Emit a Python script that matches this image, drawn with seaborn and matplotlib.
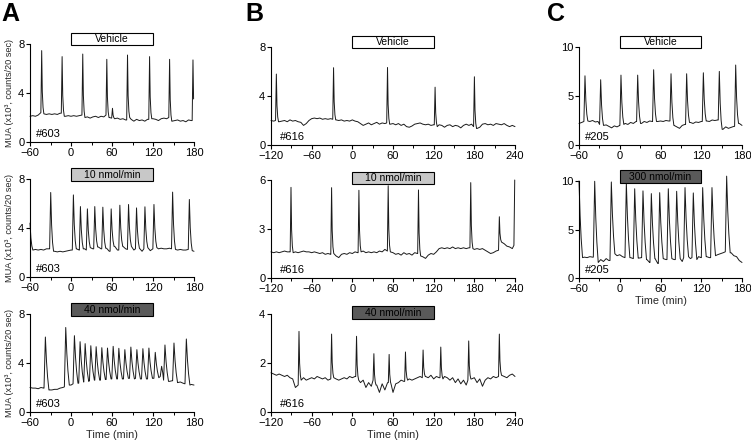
import numpy as np
import pandas as pd
import matplotlib
matplotlib.use("Agg")
import matplotlib.pyplot as plt
import matplotlib.transforms as mtransforms
from matplotlib.patches import Rectangle
import seaborn as sns

sns.set_theme(style="ticks")
plt.rcParams['font.family'] = ['Liberation Sans', 'DejaVu Sans']

# ---------------- data (MUA, x10^3 counts / 20 sec) ----------------
STEP = 4.0  # minutes between baseline samples

# Panel A  (#603), time -60..180
A_VEH_BASE = [2.10, 2.15, 2.10, 2.20, 2.40, 2.30, 2.25, 2.30, 2.25, 2.30,
              2.25, 2.35, 2.10, 2.10, 2.15, 2.10, 2.15, 2.10, 2.15, 2.20,
              2.00, 2.05, 1.95, 2.05, 2.10, 2.00, 2.10, 2.05, 2.20, 2.00,
              1.95, 1.90, 1.95, 1.85, 1.90, 1.80, 2.00, 1.85, 1.70, 1.85,
              1.75, 1.80, 1.70, 1.85, 2.00, 1.90, 1.85, 1.75, 1.90, 1.95,
              1.90, 2.00, 1.70, 1.75, 1.80, 1.70, 1.75, 1.65, 1.80, 1.75,
              1.80]
A_VEH_PK_T = [-42.9, -13.0, 17.2, 52.4, 60.7, 82.7, 115.0, 144.3, 178.5]
A_VEH_PK_V = [7.46, 6.97, 7.18, 6.75, 2.75, 7.10, 6.97, 6.75, 6.70]

A_10_BASE = [2.30, 2.20, 2.25, 2.20, 2.25, 2.20, 2.30, 2.30, 2.15, 2.10,
             2.05, 2.10, 2.05, 2.10, 2.15, 2.20, 2.20, 2.30, 2.20, 2.35,
             2.30, 2.20, 2.40, 2.30, 2.20, 2.45, 2.30, 2.20, 2.35, 2.10,
             2.30, 2.50, 2.20, 2.35, 2.50, 2.30, 2.25, 2.50, 2.20, 2.30,
             2.35, 2.10, 2.30, 2.40, 2.15, 2.30, 2.40, 2.30, 2.35, 2.30,
             2.30, 2.35, 2.30, 2.25, 2.20, 2.25, 2.20, 2.20, 2.25, 2.15,
             2.10]
A_10_PK_T = [-60.0, -29.7, 3.5, 13.8, 24.0, 34.8, 46.6, 58.8, 71.5, 84.2,
             95.9, 108.2, 121.4, 148.7, 173.2]
A_10_PK_V = [4.40, 6.90, 6.70, 5.75, 5.56, 5.75, 5.70, 5.56, 5.86, 5.92,
             5.64, 5.73, 5.92, 6.93, 6.33]

A_40_BASE = [2.00, 1.95, 1.95, 1.90, 2.00, 1.95, 1.90, 1.80, 1.80, 1.85,
             1.85, 1.95, 2.00, 2.05, 2.20, 2.20, 2.30, 2.30, 2.35, 2.40,
             2.45, 2.50, 2.55, 2.60, 2.60, 2.65, 2.60, 2.70, 2.65, 2.70,
             2.70, 2.65, 2.70, 2.75, 2.70, 2.70, 2.75, 2.70, 2.70, 2.75,
             2.70, 2.70, 2.75, 2.70, 2.70, 2.75, 2.70, 2.80, 2.90, 2.60,
             2.45, 2.50, 2.55, 2.50, 2.40, 2.45, 2.35, 2.30, 2.20, 2.25,
             2.20]
A_40_PK_T = [-37.5, -7.7, 5.0, 13.3, 20.7, 29.0, 36.8, 45.1, 53.4, 61.7,
             70.0, 78.8, 87.6, 96.4, 105.2, 114.0, 123.3, 132.6, 137.5,
             150.7, 168.8]
A_40_PK_V = [6.12, 6.90, 6.23, 5.74, 5.58, 5.41, 5.33, 5.25, 5.22, 5.36,
             5.20, 5.09, 5.30, 5.09, 5.17, 5.22, 4.87, 3.73, 5.47,
             5.63, 5.96]

# Panel B  (#616), time -120..240
B_VEH_BASE = [2.00, 1.95, 2.00, 1.90, 1.95, 2.00, 1.90, 2.05, 1.95, 2.00,
              1.90, 1.85, 1.60, 1.75, 2.00, 2.15, 2.20, 2.15, 2.20, 2.10,
              2.15, 2.10, 2.15, 2.10, 2.05, 2.00, 2.05, 1.95, 2.00, 1.95,
              2.05, 1.95, 1.90, 1.75, 1.60, 1.70, 1.80, 1.65, 1.75, 1.85,
              1.70, 1.80, 1.75, 1.80, 1.70, 1.75, 1.65, 1.75, 1.60, 1.70,
              1.50, 1.45, 1.55, 1.70, 1.75, 1.80, 1.70, 1.65, 1.70, 1.60,
              1.65, 1.50, 1.65, 1.60, 1.45, 1.60, 1.65, 1.50, 1.60, 1.55,
              1.40, 1.60, 1.70, 1.60, 1.70, 1.50, 1.35, 1.45, 1.70, 1.75,
              1.65, 1.70, 1.60, 1.75, 1.70, 1.65, 1.75, 1.60, 1.50, 1.60,
              1.50]
B_VEH_PK_T = [-112.1, -27.7, 51.9, 122.1, 180.1]
B_VEH_PK_V = [5.79, 6.31, 6.33, 4.72, 5.57]

B_10_BASE = [1.60, 1.55, 1.60, 1.55, 1.60, 1.65, 1.60, 1.60, 1.55, 1.60,
             1.55, 1.60, 1.65, 1.60, 1.60, 1.55, 1.60, 1.55, 1.50, 1.55,
             1.45, 1.50, 1.45, 1.50, 1.35, 1.25, 1.45, 1.50, 1.45, 1.55,
             1.50, 1.60, 1.55, 1.60, 1.65, 1.55, 1.60, 1.55, 1.60, 1.55,
             1.65, 1.60, 1.75, 1.65, 1.60, 1.55, 1.45, 1.50, 1.40, 1.55,
             1.45, 1.50, 1.40, 1.55, 1.50, 1.35, 1.30, 1.20, 1.40, 1.50,
             1.45, 1.60, 1.80, 1.85, 1.80, 1.85, 1.80, 1.90, 1.80, 1.85,
             1.80, 1.85, 1.80, 1.85, 1.80, 1.75, 1.80, 1.75, 1.80, 1.70,
             1.60, 1.50, 1.55, 1.65, 1.70, 2.20, 2.10, 1.95, 1.90, 1.80,
             2.00]
B_10_PK_T = [-90.5, -30.6, 9.7, 52.9, 97.6, 174.7, 216.9, 239.6]
B_10_PK_V = [5.55, 5.53, 5.37, 5.65, 5.39, 5.84, 3.75, 6.00]

B_40_BASE = [1.60, 1.55, 1.50, 1.55, 1.50, 1.45, 1.50, 1.40, 1.35, 1.00,
             1.10, 1.30, 1.40, 1.30, 1.35, 1.40, 1.35, 1.45, 1.40, 1.35,
             1.40, 1.30, 1.35, 1.40, 1.35, 1.30, 1.35, 1.40, 1.35, 1.45,
             1.40, 1.45, 1.30, 1.20, 1.30, 1.00, 1.20, 1.05, 1.30, 1.10,
             0.80, 1.15, 0.90, 1.20, 1.10, 0.80, 1.15, 1.20, 1.30, 1.25,
             1.30, 1.35, 1.30, 1.35, 1.40, 1.45, 1.40, 1.45, 1.40, 1.50,
             1.35, 1.45, 1.40, 1.35, 1.45, 1.40, 1.30, 1.40, 1.20, 1.35,
             1.15, 1.30, 1.10, 1.30, 1.35, 1.40, 1.20, 1.35, 1.05, 1.30,
             1.40, 1.35, 1.45, 1.40, 1.45, 1.50, 1.45, 1.40, 1.50, 1.55,
             1.45]
B_40_PK_T = [-78.7, -30.6, 6.2, 31.8, 54.3, 78.4, 104.4, 130.5, 171.7, 216.9]
B_40_PK_V = [3.29, 3.18, 3.09, 2.38, 2.35, 2.45, 2.53, 2.65, 2.90, 3.18]

# Panel C  (#205), time -60..180
C_VEH_BASE = [2.20, 2.30, 2.40, 2.45, 2.40, 2.50, 2.35, 2.40, 2.10, 2.00,
              2.05, 1.90, 1.75, 1.95, 1.85, 2.00, 2.10, 2.20, 2.10, 2.30,
              2.20, 2.40, 2.30, 2.20, 2.40, 2.30, 2.45, 2.40, 2.50, 2.40,
              2.45, 2.40, 2.50, 2.45, 2.10, 2.00, 1.85, 1.70, 2.00, 2.10,
              2.40, 2.30, 2.20, 2.35, 2.30, 2.40, 2.50, 2.45, 2.40, 2.55,
              2.50, 2.55, 1.90, 1.60, 1.85, 1.70, 1.80, 1.90, 2.30, 2.20,
              2.00]
C_VEH_PK_T = [-51.2, -28.1, 1.8, 26.4, 49.9, 75.5, 98.5, 123.1, 146.6, 170.7]
C_VEH_PK_V = [7.06, 6.66, 7.13, 7.13, 7.68, 7.27, 7.27, 7.37, 7.51, 8.16]

C_300_BASE = [2.20, 2.10, 2.15, 2.10, 2.20, 2.15, 1.80, 1.60, 1.90, 1.70,
              2.00, 1.80, 2.40, 2.50, 2.30, 2.40, 2.20, 2.10, 2.00, 2.10,
              2.00, 2.20, 2.05, 2.10, 2.00, 1.90, 1.60, 1.90, 2.00, 1.50,
              1.60, 2.00, 1.90, 2.10, 2.00, 1.90, 2.10, 2.00, 1.70, 2.10,
              2.20, 2.00, 2.10, 1.90, 2.20, 2.10, 2.00, 2.20, 2.10, 2.20,
              2.30, 2.40, 2.50, 2.60, 2.70, 2.50, 2.60, 2.30, 2.20, 1.80,
              1.60]
C_300_PK_T = [-60.0, -36.9, -12.4, 9.7, 22.0, 34.2, 46.5, 58.8, 71.5, 83.8,
              96.1, 108.3, 122.1, 135.8, 157.4]
C_300_PK_V = [10.0, 9.97, 9.90, 9.80, 9.20, 8.98, 8.70, 8.80, 9.20, 8.94,
              9.32, 8.77, 9.32, 9.32, 10.5]

# pulse shape templates (minutes from peak, fraction of peak height)
SHARP_OFF, SHARP_FRAC = [-1.2, 0.0, 0.9, 2.0, 3.2], [0.0, 1.0, 0.35, 0.10, 0.0]
MED_OFF, MED_FRAC = [-1.6, 0.0, 1.3, 2.7, 4.2], [0.0, 1.0, 0.45, 0.15, 0.0]
BROAD_OFF, BROAD_FRAC = [-2.0, 0.0, 1.6, 3.2, 5.2], [0.0, 1.0, 0.55, 0.25, 0.0]

LABELS_BOX = ["Vehicle", "10 nmol/min", "40 nmol/min", "300 nmol/min"]
BOX_COLORS = {"Vehicle": "#ffffff", "10 nmol/min": "#c8c8c8",
              "40 nmol/min": "#5a5a5a", "300 nmol/min": "#5a5a5a"}


def build(t0, tmax, base, pk_t, pk_v, off, frac):
    tb = t0 + STEP * np.arange(len(base))
    vb = np.asarray(base, float)

    def base_at(t):
        i = int(round((t - t0) / STEP))
        return vb[min(max(i, 0), len(vb) - 1)]

    keep = np.ones(len(tb), bool)
    ts, vs = [], []
    for k, (tp, vp) in enumerate(zip(pk_t, pk_v)):
        lo, hi = tp + off[0], tp + off[-1]
        keep &= ~((tb >= lo) & (tb <= hi))
        nxt = pk_t[k + 1] + off[0] if k + 1 < len(pk_t) else np.inf
        b0, b1 = base_at(lo), base_at(hi)
        for o, f in zip(off, frac):
            t = tp + o
            if o > 0 and t >= nxt:
                continue
            b = b0 if o <= 0 else b1
            ts.append(t)
            vs.append(b + f * (vp - b))
    t_all = np.concatenate([tb[keep], ts])
    v_all = np.concatenate([vb[keep], vs])
    order = np.argsort(t_all, kind="stable")
    t_all, v_all = t_all[order], v_all[order]
    m = (t_all >= t0) & (t_all <= tmax)
    return pd.DataFrame({"t": t_all[m], "v": v_all[m]})


W, H = 751, 445
fig = plt.figure(figsize=(W / 100, H / 100), dpi=100)


def add_ax(x0, x1, y0, y1):
    return fig.add_axes([x0 / W, 1 - y1 / H, (x1 - x0) / W, (y1 - y0) / H])


panels = [
    dict(px=(30, 194, 44, 142), t=(-60, 180), ymax=8, yt=[0, 4, 8],
         base=A_VEH_BASE, pt=A_VEH_PK_T, pv=A_VEH_PK_V, tpl=(SHARP_OFF, SHARP_FRAC),
         box="Vehicle", id="#603", xl=False, yl=True, by=0.985),
    dict(px=(30, 194, 179, 277), t=(-60, 180), ymax=8, yt=[0, 4, 8],
         base=A_10_BASE, pt=A_10_PK_T, pv=A_10_PK_V, tpl=(MED_OFF, MED_FRAC),
         box="10 nmol/min", id="#603", xl=False, yl=True, by=0.98),
    dict(px=(30, 194, 314, 412), t=(-60, 180), ymax=8, yt=[0, 4, 8],
         base=A_40_BASE, pt=A_40_PK_T, pv=A_40_PK_V, tpl=(BROAD_OFF, BROAD_FRAC),
         box="40 nmol/min", id="#603", xl=True, yl=True, by=0.98),
    dict(px=(271, 515, 47, 145), t=(-120, 240), ymax=8, yt=[0, 4, 8],
         base=B_VEH_BASE, pt=B_VEH_PK_T, pv=B_VEH_PK_V, tpl=(SHARP_OFF, SHARP_FRAC),
         box="Vehicle", id="#616", xl=False, yl=False, by=0.985),
    dict(px=(271, 515, 180, 278), t=(-120, 240), ymax=6, yt=[0, 3, 6],
         base=B_10_BASE, pt=B_10_PK_T, pv=B_10_PK_V, tpl=(SHARP_OFF, SHARP_FRAC),
         box="10 nmol/min", id="#616", xl=False, yl=False, by=0.955),
    dict(px=(271, 515, 314, 412), t=(-120, 240), ymax=4, yt=[0, 2, 4],
         base=B_40_BASE, pt=B_40_PK_T, pv=B_40_PK_V, tpl=(SHARP_OFF, SHARP_FRAC),
         box="40 nmol/min", id="#616", xl=True, yl=False, by=0.95),
    dict(px=(579, 742, 47, 145), t=(-60, 180), ymax=10, yt=[0, 5, 10],
         base=C_VEH_BASE, pt=C_VEH_PK_T, pv=C_VEH_PK_V, tpl=(MED_OFF, MED_FRAC),
         box="Vehicle", id="#205", xl=False, yl=False, by=0.985),
    dict(px=(579, 742, 181, 278), t=(-60, 180), ymax=10, yt=[0, 5, 10],
         base=C_300_BASE, pt=C_300_PK_T, pv=C_300_PK_V, tpl=(BROAD_OFF, BROAD_FRAC),
         box="300 nmol/min", id="#205", xl=True, yl=False, by=0.98),
]

for p in panels:
    x0, x1, y0, y1 = p["px"]
    ax = add_ax(x0, x1, y0, y1)
    t0, tmax = p["t"]
    df = build(t0, tmax, p["base"], p["pt"], p["pv"], *p["tpl"])
    sns.lineplot(data=df, x="t", y="v", ax=ax, color="#1a1a1a", linewidth=0.7,
                 estimator=None, sort=False)
    for ln in ax.lines:
        ln.set_clip_on(False)
    ax.set_xlim(t0, tmax)
    ax.set_ylim(0, p["ymax"])
    ax.set_xticks(np.arange(t0, tmax + 1, 60))
    ax.set_xticks(np.arange(t0, tmax + 1, 30), minor=True)
    ax.set_yticks(p["yt"])
    sns.despine(ax=ax)
    for s in ("left", "bottom"):
        ax.spines[s].set_color("black")
        ax.spines[s].set_linewidth(0.8)
    ax.tick_params(axis="both", which="major", length=2.6, width=0.8, pad=1.5,
                   labelsize=8, color="black", labelcolor="black")
    ax.tick_params(axis="x", which="minor", length=1.8, width=0.7, color="black")
    ax.set_xlabel("Time (min)" if p["xl"] else "", fontsize=7.8, labelpad=1.5)
    ax.set_ylabel("MUA (x10³, counts/20 sec)" if p["yl"] else "", fontsize=6.6,
                  labelpad=3)
    ax.text(0.035, 0.035, p["id"], transform=ax.transAxes, fontsize=8,
            ha="left", va="bottom", color="black")
    # treatment bar from 0 to 120 min
    tr = mtransforms.blended_transform_factory(ax.transData, ax.transAxes)
    bh = 0.13
    ax.add_patch(Rectangle((0, p["by"]), 120, bh, transform=tr, clip_on=False,
                           facecolor=BOX_COLORS[p["box"]], edgecolor="black",
                           linewidth=0.8, zorder=5))
    ax.text(60, p["by"] + bh / 2, p["box"], transform=tr, fontsize=7.5,
            ha="center", va="center", color="black", zorder=6, clip_on=False)

for letter, xpx in (("A", 1), ("B", 245), ("C", 547)):
    fig.text(xpx / W, 1 - 2 / H, letter, fontsize=18, fontweight="bold",
             ha="left", va="top", color="black")

fig.savefig("out.png", dpi=100)
